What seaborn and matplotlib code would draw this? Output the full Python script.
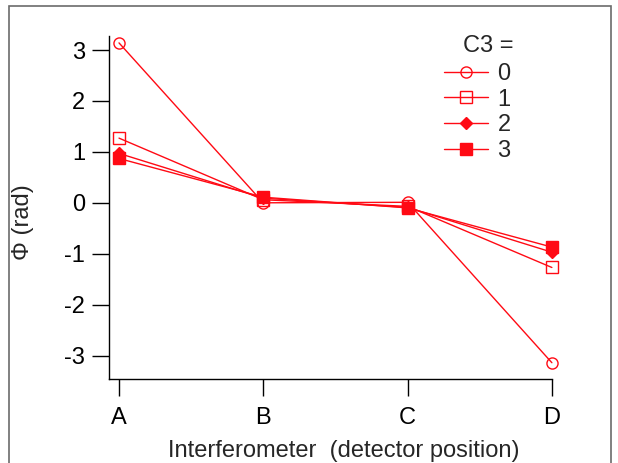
import matplotlib
matplotlib.use("Agg")
import matplotlib.pyplot as plt
from matplotlib.patches import Rectangle
import pandas as pd
import seaborn as sns

# values
positions = ["A", "B", "C", "D"]
c3_levels = ["0", "1", "2", "3"]
phi_c0 = [3.14, 0.00, 0.01, -3.14]
phi_c1 = [1.27, 0.06, -0.07, -1.27]
phi_c2 = [0.97, 0.09, -0.09, -0.97]
phi_c3 = [0.87, 0.11, -0.10, -0.87]

rows = []
for lev, vals in zip(c3_levels, [phi_c0, phi_c1, phi_c2, phi_c3]):
    for p, v in zip(positions, vals):
        rows.append({"pos": p, "phi": v, "C3": lev})
df = pd.DataFrame(rows)

sns.set_style("ticks")
plt.rcParams["font.family"] = ["Liberation Sans", "DejaVu Sans"]
plt.rcParams["axes.unicode_minus"] = False

fs = 17
red = "#ff0a14"
styles = {
    "0": dict(marker="o", markersize=8, fillstyle="none"),
    "1": dict(marker="s", markersize=8, fillstyle="none"),
    "2": dict(marker="D", markersize=6.5),
    "3": dict(marker="s", markersize=8.6),
}

fig = plt.figure(figsize=(6.18, 4.63), dpi=100)
ax = fig.add_axes([0.176, 0.1814, 0.717, 0.7408])

for lev in c3_levels:
    sub = df[df["C3"] == lev]
    sns.lineplot(data=sub, x="pos", y="phi", ax=ax, color=red, lw=1,
                 mec=red, mfc=red if "fillstyle" not in styles[lev] else "none",
                 mew=1, label=lev, clip_on=False, **styles[lev])

ax.set_xlim(-0.071, 3.0)
ax.set_ylim(-3.46, 3.275)
ax.set_yticks([-3, -2, -1, 0, 1, 2, 3])
sns.despine(ax=ax)
for s in ["left", "bottom"]:
    ax.spines[s].set_linewidth(1)
    ax.spines[s].set_color("black")
ax.tick_params(axis="both", direction="out", length=12.5, width=1,
               color="black", labelsize=fs, labelcolor="black")
ax.tick_params(axis="y", pad=4.5)
ax.tick_params(axis="x", pad=7.5)

ax.set_xlabel("Interferometer  (detector position)", fontsize=fs)
ax.xaxis.label.set_va("center")
ax.xaxis.set_label_coords(0.53, -0.209)
ax.set_ylabel("Φ (rad)", fontsize=fs)
ax.yaxis.label.set_va("center")
ax.yaxis.set_label_coords(-0.193, 0.458)

leg = ax.legend(loc="upper left", bbox_to_anchor=(0.736, 0.949), frameon=False,
                fontsize=fs, handlelength=1.85, handletextpad=0.4,
                labelspacing=0.155, borderaxespad=0)
ax.text(0.8, 0.97, "C3 =", transform=ax.transAxes, fontsize=fs,
        ha="left", va="center")

fig.add_artist(Rectangle((9 / 618, -0.05), 602 / 618, (457 / 463) + 0.05,
                         transform=fig.transFigure, fill=False,
                         ec="#6b6b6b", lw=1.2))

fig.savefig("out.png", dpi=100)
